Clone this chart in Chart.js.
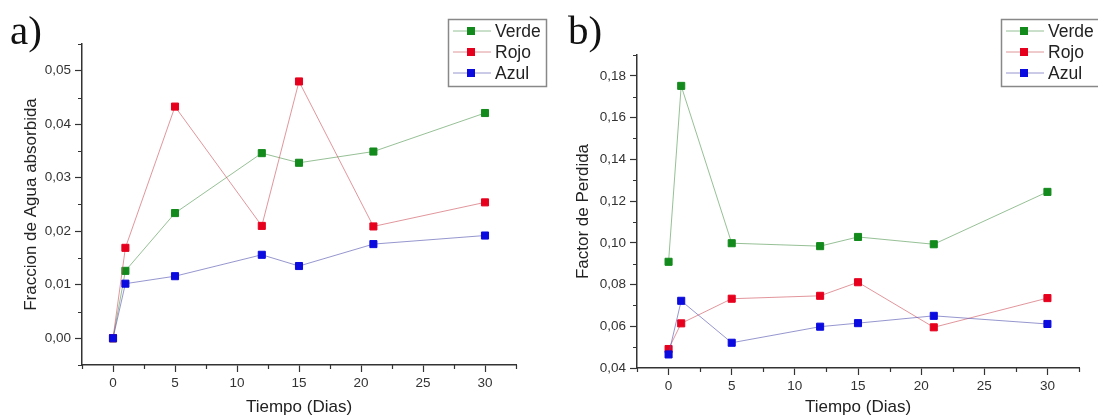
<!DOCTYPE html>
<html>
<head>
<meta charset="utf-8">
<script src="https://cdn.jsdelivr.net/npm/chart.js@4.4.1/dist/chart.umd.min.js"></script>
<style>
  body { margin: 0; background: #fff; overflow: hidden; }
  .panel { position: absolute; top: 0; width: 549px; height: 416px; }
  #panel-a { left: 0; }
  #panel-b { left: 549px; }
</style>
</head>
<body>
<div class="panel" id="panel-a"><canvas id="chartA"></canvas></div>
<div class="panel" id="panel-b"><canvas id="chartB"></canvas></div>
<script>
// tiempo en dias
const dias = [0, 1, 5, 12, 15, 21, 30];
const nombres = ['Verde', 'Rojo', 'Azul'];

// a) fraccion de agua absorbida
const aguaVerde = [0, 0.0126, 0.0234, 0.0346, 0.0328, 0.0349, 0.0421];
const aguaRojo = [0, 0.0169, 0.0433, 0.0210, 0.0480, 0.0209, 0.0254];
const aguaAzul = [0, 0.0102, 0.0116, 0.0156, 0.0135, 0.0176, 0.0192];

// b) factor de perdida
const perdidaVerde = [0.0909, 0.1752, 0.0998, 0.0984, 0.1028, 0.0993, 0.1244];
const perdidaRojo = [0.0491, 0.0614, 0.0732, 0.0746, 0.0811, 0.0595, 0.0735];
const perdidaAzul = [0.0465, 0.0722, 0.0521, 0.0598, 0.0615, 0.0650, 0.0611];

// ejes
const xTicks = [0, 5, 10, 15, 20, 25, 30];
const xMinor = [-2.5, 2.5, 7.5, 12.5, 17.5, 22.5, 27.5, 32.5];
const aguaTicks = [0, 0.01, 0.02, 0.03, 0.04, 0.05];
const aguaMinor = [-0.005, 0.005, 0.015, 0.025, 0.035, 0.045, 0.055];
const perdidaTicks = [0.04, 0.06, 0.08, 0.10, 0.12, 0.14, 0.16, 0.18];
const perdidaMinor = [0.05, 0.07, 0.09, 0.11, 0.13, 0.15, 0.17, 0.19];

const markerColors = ['#138a1c', '#e6001e', '#0b0bdf'];
const lineColors = ['rgba(80,150,80,0.6)', 'rgba(205,80,90,0.6)', 'rgba(80,80,175,0.6)'];
const axisColor = '#333';
const sans = '"Liberation Sans", Arial, sans-serif';
const H = 416, W = 549;

// ticks menores + leyenda con caja + letra del panel
const extras = {
  id: 'extras',
  afterDraw(chart, args, opts) {
    const ctx = chart.ctx;
    const xs = chart.scales.x, ys = chart.scales.y;
    ctx.save();
    ctx.strokeStyle = axisColor;
    ctx.lineWidth = 1.2;
    ctx.beginPath();
    opts.xMinor.forEach(v => {
      const px = Math.round(xs.getPixelForValue(v)) + 0.5;
      ctx.moveTo(px, xs.top);
      ctx.lineTo(px, xs.top + 4);
    });
    opts.yMinor.forEach(v => {
      const py = Math.round(ys.getPixelForValue(v)) + 0.5;
      ctx.moveTo(ys.right, py);
      ctx.lineTo(ys.right - 4, py);
    });
    ctx.stroke();

    // letra a) / b)
    ctx.fillStyle = '#111';
    ctx.font = '41px "Liberation Serif", "Times New Roman", serif';
    ctx.textBaseline = 'alphabetic';
    ctx.fillText(opts.tag, opts.tagX, 44);

    // leyenda
    const lg = opts.legend;
    ctx.strokeStyle = '#888';
    ctx.lineWidth = 1.5;
    ctx.strokeRect(lg.x + 0.5, lg.y + 0.5, lg.w, lg.h);
    ctx.font = '17.5px ' + sans;
    ctx.textBaseline = 'middle';
    chart.data.datasets.slice().sort((a, b) => a.idx - b.idx).forEach((ds, i) => {
      const yy = lg.y + 12 + i * 21;
      ctx.strokeStyle = ds.borderColor;
      ctx.lineWidth = 1;
      ctx.beginPath();
      ctx.moveTo(lg.x + 5, yy);
      ctx.lineTo(lg.x + 43, yy);
      ctx.stroke();
      ctx.fillStyle = ds.pointBackgroundColor;
      ctx.fillRect(lg.x + 19, yy - 4, 8, 8);
      ctx.fillStyle = '#222';
      ctx.fillText(ds.label, lg.x + 47, yy + 1);
    });
    ctx.restore();
  }
};

function fmt(v) {
  return v.toFixed(2).replace('.', ',');
}

function makeChart(id, cfg) {
  const datasets = cfg.values.map((vals, i) => ({
    label: nombres[i],
    idx: i,
    order: i === 2 ? 0 : (i === 1 ? 1 : 2),
    data: dias.map((d, j) => ({ x: d, y: vals[j] })),
    borderColor: lineColors[i],
    borderWidth: 1,
    pointStyle: 'rect',
    pointRadius: 5,
    pointBorderWidth: 1,
    pointBackgroundColor: markerColors[i],
    pointBorderColor: markerColors[i],
    tension: 0
  }));

  return new Chart(document.getElementById(id), {
    type: 'line',
    data: { datasets },
    plugins: [extras],
    options: {
      responsive: true,
      maintainAspectRatio: false,
      animation: false,
      events: [],
      layout: { padding: { top: cfg.area.top, right: W - cfg.area.right, left: 0, bottom: 0 } },
      plugins: {
        legend: { display: false },
        tooltip: { enabled: false },
        extras: {
          xMinor: xMinor,
          yMinor: cfg.yMinor,
          tag: cfg.tag,
          tagX: cfg.tagX,
          legend: cfg.legend
        }
      },
      scales: {
        x: {
          type: 'linear',
          min: -2.5,
          max: 32.5,
          afterBuildTicks: s => { s.ticks = xTicks.map(v => ({ value: v })); },
          afterFit: s => { s.height = H - cfg.area.bottom; },
          grid: { drawOnChartArea: false, drawTicks: true, tickLength: 7, color: axisColor, tickWidth: 1.2 },
          border: { color: axisColor, width: 1.5 },
          ticks: { color: '#333', padding: 3, font: { family: sans, size: 13.5 }, maxRotation: 0 },
          title: {
            display: true, text: 'Tiempo (Dias)', color: '#222',
            font: { family: sans, size: 17, lineHeight: 1 }, padding: { top: 0, bottom: 0.5 }
          }
        },
        y: {
          type: 'linear',
          min: cfg.yMin,
          max: cfg.yMax,
          afterBuildTicks: s => { s.ticks = cfg.yTicks.map(v => ({ value: v })); },
          afterFit: s => { s.width = cfg.area.left; },
          grid: { drawOnChartArea: false, drawTicks: true, tickLength: 7, color: axisColor, tickWidth: 1.2 },
          border: { color: axisColor, width: 1.5 },
          ticks: { color: '#333', padding: 4, font: { family: sans, size: 13.5 }, callback: v => fmt(v) },
          title: {
            display: true, text: cfg.yTitle, color: '#222',
            font: { family: sans, size: 17, lineHeight: 1 }, padding: { top: cfg.titleX - 8.5, bottom: 0 }
          }
        }
      }
    }
  });
}

makeChart('chartA', {
  values: [aguaVerde, aguaRojo, aguaAzul],
  yMin: -0.005, yMax: 0.055,
  yTicks: aguaTicks, yMinor: aguaMinor,
  yTitle: 'Fraccion de Agua absorbida',
  titleX: 31,
  area: { left: 82, right: 516, top: 44, bottom: 365 },
  tag: 'a)', tagX: 10,
  legend: { x: 448, y: 19, w: 98, h: 67 }
});

makeChart('chartB', {
  values: [perdidaVerde, perdidaRojo, perdidaAzul],
  yMin: 0.04, yMax: 0.19,
  yTicks: perdidaTicks, yMinor: perdidaMinor,
  yTitle: 'Factor de Perdida',
  titleX: 34,
  area: { left: 88, right: 530, top: 55, bottom: 368 },
  tag: 'b)', tagX: 19,
  legend: { x: 452, y: 19, w: 110, h: 67 }
});
</script>
</body>
</html>
